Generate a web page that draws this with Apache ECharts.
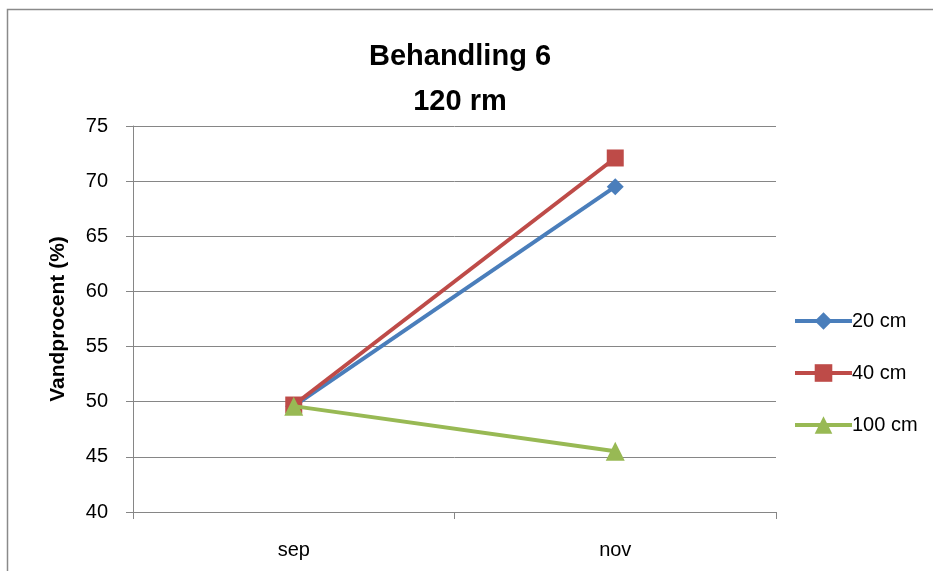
<!DOCTYPE html>
<html><head><meta charset="utf-8">
<script src="https://cdn.jsdelivr.net/npm/echarts@6/dist/echarts.min.js"></script>
<style>html,body{margin:0;padding:0;background:#fff}#c{width:933px;height:571px}</style>
</head><body><div id="c"></div>
<script>
const categories = ['sep', 'nov'];
const seriesNames = ['20 cm', '40 cm', '100 cm'];
const values20 = [49.6, 69.5];
const values40 = [49.7, 72.1];
const values100 = [49.6, 45.5];
const yTicks = [40, 45, 50, 55, 60, 65, 70, 75];

const FONT = "'Liberation Sans', 'Open Sans', sans-serif";
const chart = echarts.init(document.getElementById('c'));
const colors = ['#4A7EBB', '#BE4B48', '#98B954'];
const symbols = ['diamond', 'rect', 'triangle'];
const sizes = [17, 17, 19];
const data = [values20, values40, values100];

chart.setOption({
  animation: false,
  textStyle: {fontFamily: FONT},
  graphic: [{type: 'rect', shape: {x: 7.5, y: 9.5, width: 1000, height: 1000}, style: {fill: 'none', stroke: '#8a8a8a', lineWidth: 1.5}, z: -1}],
  title: {
    text: 'Behandling 6\n120 rm',
    left: 455, top: 29, textAlign: 'center',
    textStyle: {fontFamily: FONT, fontWeight: 'bold', fontSize: 29, lineHeight: 45, color: '#000'}
  },
  legend: {
    orient: 'vertical', left: 788, top: 306,
    itemWidth: 57, itemHeight: 22, itemGap: 32,
    data: seriesNames,
    lineStyle: {width: 4},
    textStyle: {fontFamily: FONT, fontSize: 20, color: '#000', padding: [0,0,0,-5]}
  },
  grid: {left: 133, right: 157, top: 126, bottom: 59, containLabel: false},
  xAxis: {
    type: 'category', data: categories, boundaryGap: true,
    axisLine: {lineStyle: {color: '#868686', width: 1}},
    axisTick: {show: true, length: 7, lineStyle: {color: '#868686'}},
    axisLabel: {fontFamily: FONT, fontSize: 20, color: '#000', margin: 28}
  },
  yAxis: {
    type: 'value', min: 40, max: 75, interval: 5,
    name: 'Vandprocent (%)', nameLocation: 'middle', nameGap: 64, nameRotate: 90,
    nameTextStyle: {fontFamily: FONT, fontWeight: 'bold', fontSize: 21, color: '#000'},
    axisLine: {show: true, lineStyle: {color: '#868686'}},
    axisTick: {show: true, length: 7, lineStyle: {color: '#868686'}},
    axisLabel: {fontFamily: FONT, fontSize: 20, color: '#000', margin: 25,
      formatter: v => yTicks.includes(v) ? String(v) : ''},
    splitLine: {lineStyle: {color: '#868686', width: 1}}
  },
  series: seriesNames.map((n, i) => ({
    name: n, type: 'line', data: data[i],
    symbol: symbols[i], symbolSize: sizes[i],
    lineStyle: {color: colors[i], width: 4},
    itemStyle: {color: colors[i]},
    z: 3 + i
  }))
});
</script></body></html>
